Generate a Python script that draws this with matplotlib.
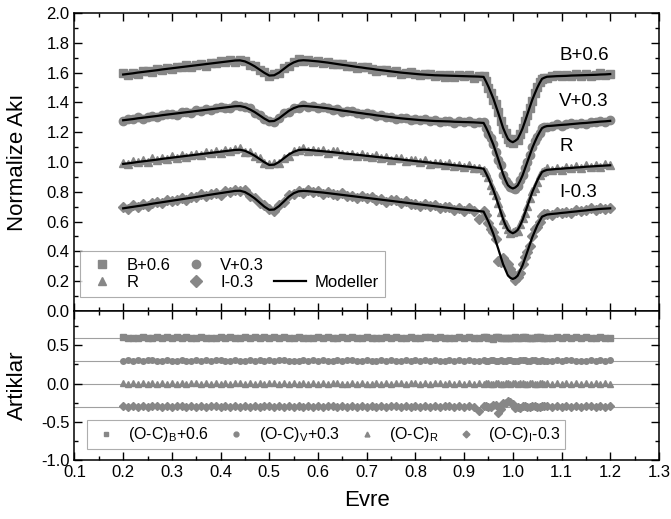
import numpy as np
import matplotlib
matplotlib.use("Agg")
import matplotlib.pyplot as plt
from matplotlib.ticker import MultipleLocator
from matplotlib.lines import Line2D

plt.rcParams['font.family'] = ['Liberation Sans', 'DejaVu Sans']
plt.rcParams['mathtext.fontset'] = 'custom'
plt.rcParams['mathtext.rm'] = 'Liberation Sans'
plt.rcParams['mathtext.default'] = 'regular'

# phase grid of the observations
phase = [0.20, 0.21, 0.22, 0.23, 0.24, 0.25, 0.26, 0.27, 0.28, 0.29,
         0.30, 0.31, 0.32, 0.33, 0.34, 0.35, 0.36, 0.37, 0.38, 0.39,
         0.40, 0.41, 0.42, 0.43, 0.44, 0.45, 0.46, 0.47, 0.48, 0.49,
         0.50, 0.51, 0.52, 0.53, 0.54, 0.55, 0.56, 0.57, 0.58, 0.59,
         0.60, 0.61, 0.62, 0.63, 0.64, 0.65, 0.66, 0.67, 0.68, 0.69,
         0.70, 0.71, 0.72, 0.73, 0.74, 0.75, 0.76, 0.77, 0.78, 0.79,
         0.80, 0.81, 0.82, 0.83, 0.84, 0.85, 0.86, 0.87, 0.88, 0.89,
         0.90, 0.91, 0.92, 0.93, 0.94, 0.95, 0.96, 0.97, 0.98, 0.99,
         1.00, 1.01, 1.02, 1.03, 1.04, 1.05, 1.06, 1.07, 1.08, 1.09,
         1.10, 1.11, 1.12, 1.13, 1.14, 1.15, 1.16, 1.17, 1.18, 1.19,
         1.20]
# extra observations inside the primary minimum
ecl_phase = [0.945, 0.955, 0.965, 0.975, 0.985, 0.995, 1.005,
             1.015, 1.025, 1.035, 1.045, 1.055, 1.065]

# model light curves (already shifted: B+0.6, V+0.3, R, I-0.3)
model_B = [1.587, 1.591, 1.595, 1.600, 1.604, 1.608, 1.612, 1.616, 1.621, 1.625,
           1.629, 1.633, 1.637, 1.641, 1.645, 1.649, 1.653, 1.657, 1.661, 1.665,
           1.669, 1.673, 1.677, 1.681, 1.682, 1.675, 1.660, 1.642, 1.620, 1.598,
           1.580, 1.582, 1.600, 1.625, 1.650, 1.668, 1.680, 1.683, 1.681, 1.678,
           1.675, 1.671, 1.667, 1.662, 1.657, 1.652, 1.648, 1.643, 1.638, 1.634,
           1.629, 1.625, 1.620, 1.616, 1.612, 1.608, 1.604, 1.600, 1.597, 1.594,
           1.591, 1.588, 1.586, 1.584, 1.582, 1.581, 1.580, 1.579, 1.578, 1.577,
           1.576, 1.575, 1.574, 1.573, 1.571, 1.505, 1.426, 1.330, 1.229, 1.155,
           1.133, 1.155, 1.225, 1.321, 1.418, 1.497, 1.558, 1.572, 1.574, 1.576,
           1.577, 1.578, 1.580, 1.581, 1.582, 1.583, 1.584, 1.585, 1.587, 1.588,
           1.590]
model_V = [1.280, 1.284, 1.288, 1.293, 1.297, 1.301, 1.305, 1.309, 1.314, 1.318,
           1.322, 1.326, 1.330, 1.334, 1.338, 1.342, 1.346, 1.350, 1.354, 1.358,
           1.362, 1.366, 1.370, 1.374, 1.375, 1.368, 1.353, 1.335, 1.313, 1.291,
           1.273, 1.275, 1.293, 1.318, 1.343, 1.361, 1.373, 1.376, 1.374, 1.371,
           1.368, 1.364, 1.360, 1.355, 1.350, 1.345, 1.341, 1.336, 1.331, 1.327,
           1.322, 1.318, 1.313, 1.309, 1.305, 1.301, 1.297, 1.293, 1.290, 1.287,
           1.284, 1.281, 1.279, 1.277, 1.275, 1.274, 1.273, 1.272, 1.270, 1.269,
           1.268, 1.267, 1.266, 1.264, 1.262, 1.196, 1.117, 1.020, 0.919, 0.844,
           0.822, 0.843, 0.910, 1.002, 1.094, 1.169, 1.227, 1.241, 1.243, 1.246,
           1.249, 1.251, 1.254, 1.257, 1.260, 1.262, 1.265, 1.268, 1.271, 1.273,
           1.276]
model_R = [0.987, 0.991, 0.995, 1.000, 1.004, 1.008, 1.012, 1.016, 1.021, 1.025,
           1.029, 1.033, 1.037, 1.041, 1.045, 1.049, 1.053, 1.057, 1.061, 1.065,
           1.069, 1.073, 1.077, 1.081, 1.082, 1.075, 1.060, 1.042, 1.020, 0.998,
           0.980, 0.982, 1.000, 1.025, 1.050, 1.068, 1.080, 1.083, 1.081, 1.078,
           1.075, 1.072, 1.069, 1.066, 1.062, 1.059, 1.055, 1.052, 1.048, 1.045,
           1.041, 1.038, 1.034, 1.031, 1.027, 1.024, 1.020, 1.017, 1.013, 1.010,
           1.006, 1.003, 0.999, 0.996, 0.992, 0.989, 0.985, 0.982, 0.978, 0.975,
           0.971, 0.968, 0.964, 0.960, 0.955, 0.890, 0.812, 0.717, 0.617, 0.544,
           0.522, 0.544, 0.611, 0.704, 0.798, 0.874, 0.933, 0.947, 0.950, 0.953,
           0.955, 0.958, 0.960, 0.963, 0.965, 0.968, 0.970, 0.972, 0.974, 0.976,
           0.978]
model_I = [0.689, 0.694, 0.699, 0.704, 0.709, 0.714, 0.720, 0.725, 0.730, 0.735,
           0.740, 0.745, 0.750, 0.755, 0.760, 0.765, 0.770, 0.776, 0.781, 0.786,
           0.791, 0.796, 0.801, 0.806, 0.807, 0.798, 0.779, 0.756, 0.728, 0.700,
           0.679, 0.681, 0.704, 0.735, 0.767, 0.790, 0.803, 0.806, 0.804, 0.801,
           0.798, 0.795, 0.791, 0.787, 0.783, 0.779, 0.775, 0.771, 0.767, 0.763,
           0.759, 0.755, 0.751, 0.747, 0.743, 0.739, 0.735, 0.731, 0.727, 0.723,
           0.719, 0.715, 0.711, 0.707, 0.703, 0.699, 0.695, 0.691, 0.687, 0.683,
           0.680, 0.677, 0.674, 0.671, 0.667, 0.599, 0.518, 0.418, 0.314, 0.238,
           0.215, 0.237, 0.306, 0.400, 0.495, 0.573, 0.633, 0.647, 0.651, 0.654,
           0.658, 0.661, 0.665, 0.668, 0.672, 0.675, 0.679, 0.682, 0.685, 0.687,
           0.689]
ecl_model_B = [1.540, 1.466, 1.378, 1.280, 1.190, 1.140, 1.142, 1.188, 1.272, 1.370, 1.458, 1.530, 1.566]
ecl_model_V = [1.231, 1.157, 1.069, 0.970, 0.878, 0.830, 0.829, 0.874, 0.956, 1.048, 1.133, 1.200, 1.236]
ecl_model_R = [0.924, 0.851, 0.765, 0.667, 0.576, 0.530, 0.530, 0.574, 0.658, 0.751, 0.836, 0.905, 0.941]
ecl_model_I = [0.633, 0.559, 0.468, 0.366, 0.276, 0.222, 0.222, 0.272, 0.353, 0.448, 0.534, 0.603, 0.640]

# O-C residuals, in units of 0.001
res_B = [8, -5, 3, -9, 6, 2, -7, 10, -3, 4,
         -8, 5, -2, 9, -6, 1, 7, -10, 3, -4,
         6, -1, 8, -7, 2, 5, -9, 4, -3, 7,
         -5, 10, -2, 6, -8, 3, 9, -4, 1, -6,
         5, -10, 7, -3, 2, 8, -5, 4, -7, 1,
         6, -2, -9, 3, 7, -4, 5, -8, 2, 9,
         -1, -6, 4, 8, -3, 5, -7, 2, -5, 6,
         -2, 7, -9, 3, 5, -6, -11, 4, -8, 2,
         -4, -10, 6, -3, -7, 5, 1, -6, 3, 7,
         -2, 4, -5, 8, -3, 6, -4, 2, 7, -1,
         3]
res_V = [-4, 6, -2, 8, -7, 3, 5, -9, 1, 7,
         -3, -8, 4, 2, -6, 9, -1, 5, -5, 3,
         7, -4, -9, 6, 2, -2, 8, -6, 4, -1,
         5, -7, 3, 9, -5, 1, -8, 6, -3, 4,
         -6, 8, 2, -4, 7, -9, 3, 5, -2, -7,
         6, 1, -5, 8, -3, 4, -8, 2, 7, -6,
         3, -1, 9, -4, 5, -7, 2, 6, -9, 4,
         -2, 7, -5, 1, 8, -6, 3, -10, -4, 6,
         2, -7, 5, -3, 9, -2, 4, -6, 1, 7,
         -5, 3, 8, -4, 2, -8, 6, -1, 5, -3,
         4]
res_R = [3, -7, 10, -2, 6, -9, 12, -4, 5, -6,
         9, -3, 11, -8, 4, 7, -5, 13, -2, 8,
         -6, 10, -4, 3, 12, -7, 5, -3, 9, -8,
         6, 11, -5, 2, -9, 8, -2, 10, -6, 4,
         -3, 9, -7, 5, 12, -4, -10, 3, -8, 7,
         1, -6, 10, -3, 6, -9, 4, 11, -5, 2,
         8, -4, 12, -7, 3, 6, -8, 9, -2, 5,
         -7, 10, -4, 2, -12, 6, -3, 8, -9, 4,
         7, -5, 11, -2, 9, -6, 3, 12, -4, 6,
         -8, 10, -3, 7, -5, 11, -2, 5, -7, 9,
         -1]
res_I = [6, -8, 11, -3, 9, -10, 4, 7, -6, 12,
         -5, 2, 10, -9, 5, -2, 13, -7, 3, 8,
         -11, 6, -4, 9, -1, 12, -8, 5, -6, 10,
         3, -9, 7, -5, 11, -3, 2, -12, 8, -4,
         6, -10, 9, 1, -7, 12, -5, 4, -9, 7,
         -2, 10, -8, 5, -12, 3, 8, -6, 11, -4,
         2, -9, 6, -3, 10, -7, 4, 9, -11, 5,
         -6, 12, -4, -55, 7, -10, 14, -80, 40, 75,
         30, -8, 12, -5, 9, -11, 4, 7, -9, 10,
         -3, 6, -8, 11, -4, 2, 9, -7, 5, -2,
         4]
ecl_res_B = [6, -3, 8, -7, 2, -5, 9, -2, 4, -8, 3, 7, -4]
ecl_res_V = [-5, 7, -2, 9, -6, 4, -8, 3, 6, -4, 8, -7, 2]
ecl_res_R = [8, -6, 11, -4, 7, -9, 5, 10, -3, 6, -8, 9, -2]
ecl_res_I = [9, -12, 15, -35, 45, 60, -14, -20, 11, -9, 13, -6, 8]

res_offsets = [0.6, 0.3, 0.0, -0.3]
band_labels = ['B+0.6', 'V+0.3', 'R', 'I-0.3']
res_labels = ['(O-C)$_{B}$+0.6', '(O-C)$_{V}$+0.3', '(O-C)$_{R}$', '(O-C)$_{I}$-0.3']
markers = ['s', 'o', '^', 'D']
msizes = [5.5, 6, 6, 5.5]
models = [(model_B, ecl_model_B), (model_V, ecl_model_V), (model_R, ecl_model_R), (model_I, ecl_model_I)]
resids = [(res_B, ecl_res_B), (res_V, ecl_res_V), (res_R, ecl_res_R), (res_I, ecl_res_I)]
gray = '#878787'

fig = plt.figure(figsize=(6.71, 5.19), dpi=100)
ax1 = fig.add_axes([0.111, 0.4008, 0.871, 0.5742])
ax2 = fig.add_axes([0.111, 0.1137, 0.871, 0.2871], sharex=ax1)

x = np.array(phase + ecl_phase)
order = np.argsort(x)
x = x[order]
curves = []
for (m1, m2), (r1, r2), mk, ms in zip(models, resids, markers, msizes):
    mdl = np.array(m1 + m2)[order]
    res = np.array(r1 + r2)[order] / 1000.0
    curves.append((mdl, res))
    ax1.plot(x, mdl + res, linestyle='none', marker=mk, ms=ms, color=gray, mec=gray)
for mdl, res in curves:
    ax1.plot(x, mdl, color='black', lw=1.6)

for off, (mdl, res), mk in zip(res_offsets, curves, markers):
    ax2.axhline(off, color='#a0a0a0', lw=0.8, zorder=1)
    ax2.plot(x, off + res, linestyle='none', marker=mk, ms=4, color=gray, mec=gray, zorder=2)

# curve labels
lab_y = [1.715, 1.405, 1.103, 0.795]
for txt, yy in zip(band_labels, lab_y):
    ax1.text(1.095, yy, txt, fontsize=13.5, ha='left', va='center')

ax1.set_xlim(0.1, 1.3)
ax1.set_ylim(0.0, 2.0)
ax2.set_ylim(-1.0, 0.95)
ax1.xaxis.set_major_locator(MultipleLocator(0.1))
ax1.xaxis.set_minor_locator(MultipleLocator(0.05))
ax1.yaxis.set_major_locator(MultipleLocator(0.2))
ax1.yaxis.set_minor_locator(MultipleLocator(0.1))
ax2.yaxis.set_major_locator(MultipleLocator(0.5))
ax2.yaxis.set_minor_locator(MultipleLocator(0.25))

for ax in (ax1, ax2):
    ax.tick_params(which='both', direction='in', top=True, right=True, labelsize=12, width=1)
    ax.tick_params(which='major', length=5.5)
    ax.tick_params(which='minor', length=3)
    for sp in ax.spines.values():
        sp.set_linewidth(1.1)
ax1.tick_params(labelbottom=False)
ax1.yaxis.set_major_formatter(plt.FormatStrFormatter('%.1f'))
ax2.yaxis.set_major_formatter(plt.FormatStrFormatter('%.1f'))
ax2.xaxis.set_major_formatter(plt.FormatStrFormatter('%.1f'))

ax1.set_ylabel('Normalize Akı', fontsize=16)
ax2.set_ylabel('Artiklar', fontsize=16)
ax2.set_xlabel('Evre', fontsize=16)
ax1.yaxis.set_label_coords(-0.08, 0.5)
ax2.yaxis.set_label_coords(-0.08, 0.5)
ax2.xaxis.set_label_coords(0.5, -0.2)

# legends
h = [Line2D([], [], ls='none', marker=markers[0], ms=6, color=gray),
     Line2D([], [], ls='none', marker=markers[2], ms=6, color=gray),
     Line2D([], [], ls='none', marker=markers[1], ms=6, color=gray),
     Line2D([], [], ls='none', marker=markers[3], ms=6, color=gray),
     Line2D([], [], ls='none'),
     Line2D([], [], color='black', lw=1.6)]
lb = [band_labels[0], band_labels[2], band_labels[1], band_labels[3], '', 'Modeller']
leg1 = ax1.legend(h, lb, ncol=3, loc='lower left', bbox_to_anchor=(0.009, 0.047),
                  borderaxespad=0, fontsize=12, frameon=True, fancybox=False,
                  edgecolor='#999999', handlelength=1.9, columnspacing=0.6,
                  handletextpad=0.5, labelspacing=0.15, borderpad=0.4)
leg1.get_frame().set_linewidth(0.8)

h2 = [Line2D([], [], ls='none', marker=mk, ms=3.5, color=gray) for mk in markers]
leg2 = ax2.legend(h2, res_labels, ncol=4, loc='lower left', bbox_to_anchor=(0.021, 0.074),
                  borderaxespad=0, fontsize=11.5, frameon=True, fancybox=False,
                  edgecolor='#999999', handlelength=1.8, columnspacing=0.8,
                  handletextpad=0.5, borderpad=0.3)
leg2.get_frame().set_linewidth(0.8)

fig.savefig('out.png', dpi=100)
